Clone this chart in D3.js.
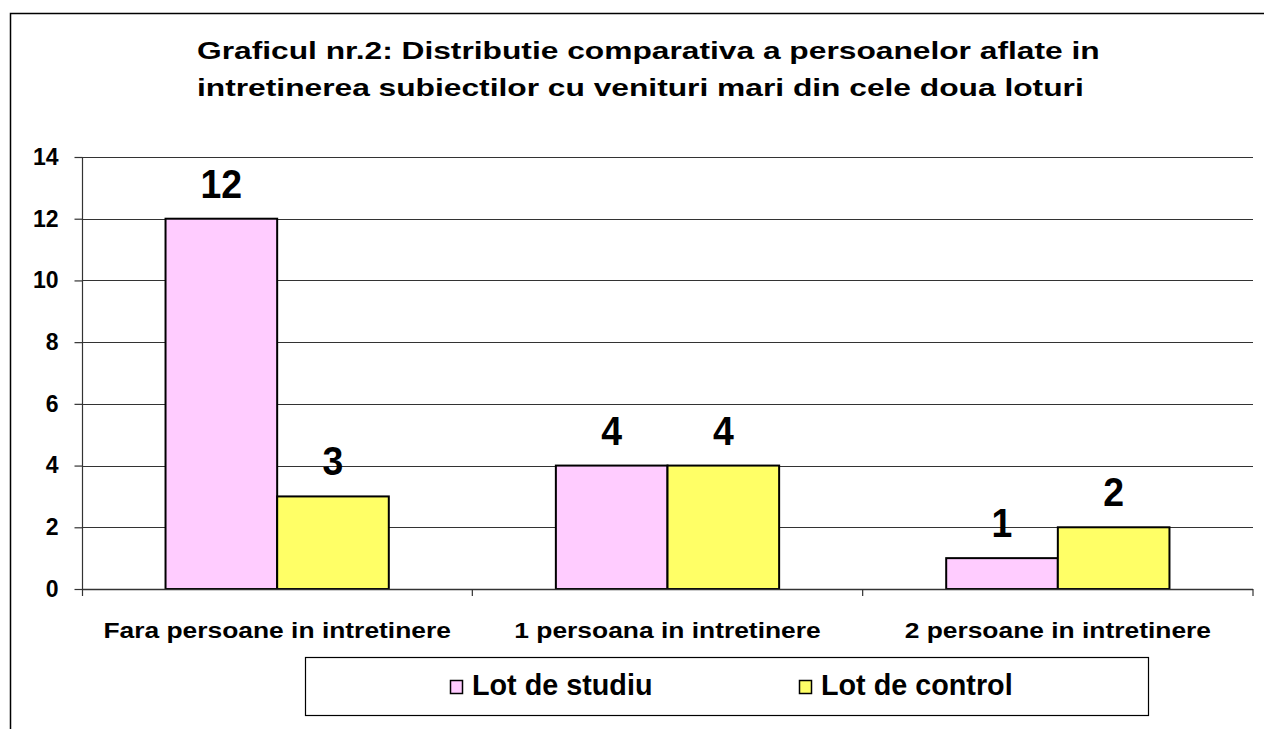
<!DOCTYPE html>
<html>
<head>
<meta charset="utf-8">
<script src="https://cdn.jsdelivr.net/npm/d3@7"></script>
<style>
  body { margin: 0; background: #fff; }
  text { font-family: Arial, "Liberation Sans", sans-serif; fill: #000; }
</style>
</head>
<body>
<div id="viz"></div>
<script>
// data
var categories = ["Fara persoane in intretinere", "1 persoana in intretinere", "2 persoane in intretinere"];
var seriesNames = ["Lot de studiu", "Lot de control"];
var studiu = [12, 4, 1];
var control = [3, 4, 2];
var yTicks = [0, 2, 4, 6, 8, 10, 12, 14];
var titleLines = ["Graficul nr.2: Distributie comparativa a persoanelor aflate in",
                  "intretinerea subiectilor cu venituri mari din cele doua loturi"];
var colors = ["#FFCCFF", "#FFFF66"];

var width = 1264, height = 729;
var plot = { l: 82, r: 1253, t: 157, b: 589 };

var svg = d3.select('#viz').append('svg')
  .attr('width', width)
  .attr('height', height);

// outer frame
svg.append('rect')
  .attr('x', 10.5).attr('y', 13.5)
  .attr('width', 1300).attr('height', 800)
  .attr('fill', 'none').attr('stroke', '#000').attr('stroke-width', 1.5);

// title (the original picture is stretched sideways, so the text is too)
svg.append('g').selectAll('text').data(titleLines).enter().append('text')
  .attr('transform', function(d, i){ return 'translate(197,' + (59 + i * 37) + ') scale(1.38,1)'; })
  .style('font-size', '23px').style('font-weight', 'bold')
  .text(function(d){ return d; });

var y = d3.scaleLinear().domain([0, 14]).range([plot.b, plot.t]);
var x0 = d3.scaleBand().domain(categories).range([plot.l, plot.r]).padding(0);
var x1 = d3.scaleBand().domain(seriesNames)
  .range([x0.bandwidth() * 0.214, x0.bandwidth() * 0.786]).padding(0);

// gridlines
svg.append('g').selectAll('line').data(yTicks.slice(1)).enter().append('line')
  .attr('x1', plot.l).attr('x2', plot.r)
  .attr('y1', function(d){ return Math.round(y(d)) + 0.5; })
  .attr('y2', function(d){ return Math.round(y(d)) + 0.5; })
  .attr('stroke', '#333').attr('stroke-width', 1.2);

// y axis
var yAxis = svg.append('g')
  .attr('transform', 'translate(' + (plot.l + 0.5) + ',0)')
  .call(d3.axisLeft(y).tickValues(yTicks).tickSize(8).tickPadding(16));
yAxis.select('.domain').remove();
yAxis.append('line').attr('y1', plot.t).attr('y2', plot.b + 7)
  .attr('stroke', '#333').attr('stroke-width', 1.2);
yAxis.selectAll('.tick line').attr('stroke', '#333').attr('stroke-width', 1.2);
yAxis.selectAll('.tick text')
  .style('font-size', '23px').style('font-weight', 'bold')
  .style('font-family', 'Arial, "Liberation Sans", sans-serif').attr('fill', '#000');

// bars
var rows = categories.map(function(c, i){ return { cat: c, vals: [studiu[i], control[i]] }; });
var groups = svg.append('g').selectAll('g').data(rows).enter().append('g')
  .attr('transform', function(d){ return 'translate(' + x0(d.cat) + ',0)'; });

groups.selectAll('rect').data(function(d){ return d.vals; }).enter().append('rect')
  .attr('x', function(d, i){ return x1(seriesNames[i]); })
  .attr('width', x1.bandwidth())
  .attr('y', function(d){ return y(d); })
  .attr('height', function(d){ return y(0) - y(d); })
  .attr('fill', function(d, i){ return colors[i]; })
  .attr('stroke', '#000').attr('stroke-width', 2);

groups.selectAll('text.val').data(function(d){ return d.vals; }).enter().append('text')
  .attr('class', 'val')
  .attr('text-anchor', 'middle')
  .attr('transform', function(d, i){
    return 'translate(' + (x1(seriesNames[i]) + x1.bandwidth() / 2) + ',' + (y(d) - 21) + ') scale(1.1,1.2)';
  })
  .style('font-size', '34px').style('font-weight', 'bold')
  .text(function(d){ return d; });

// x axis
var xAxisG = svg.append('g');
xAxisG.append('line')
  .attr('x1', plot.l).attr('x2', plot.r)
  .attr('y1', plot.b + 0.5).attr('y2', plot.b + 0.5)
  .attr('stroke', '#333').attr('stroke-width', 1.5);
xAxisG.selectAll('line.tk').data(categories).enter().append('line')
  .attr('class', 'tk')
  .attr('x1', function(d){ return x0(d) + x0.bandwidth(); })
  .attr('x2', function(d){ return x0(d) + x0.bandwidth(); })
  .attr('y1', plot.b).attr('y2', plot.b + 7)
  .attr('stroke', '#333').attr('stroke-width', 1.2);
xAxisG.selectAll('text').data(categories).enter().append('text')
  .attr('text-anchor', 'middle')
  .attr('transform', function(d){ return 'translate(' + (x0(d) + x0.bandwidth() / 2) + ',638) scale(1.2,1)'; })
  .style('font-size', '22px').style('font-weight', 'bold')
  .text(function(d){ return d; });

// legend
var legend = svg.append('g');
legend.append('rect')
  .attr('x', 305.5).attr('y', 657.5).attr('width', 843).attr('height', 58)
  .attr('fill', '#fff').attr('stroke', '#000').attr('stroke-width', 1.2);
var legX = [450, 799];
var items = legend.selectAll('g.item').data(seriesNames).enter().append('g')
  .attr('class', 'item')
  .attr('transform', function(d, i){ return 'translate(' + legX[i] + ',0)'; });
items.append('rect')
  .attr('x', 0.5).attr('y', 680.5).attr('width', 12).attr('height', 13)
  .attr('fill', function(d, i){ return colors[i]; })
  .attr('stroke', '#000').attr('stroke-width', 1.5);
items.append('text')
  .attr('transform', 'translate(22,695) scale(1.15,1.15)')
  .style('font-size', '25px').style('font-weight', 'bold')
  .text(function(d){ return d; });
</script>
</body>
</html>
